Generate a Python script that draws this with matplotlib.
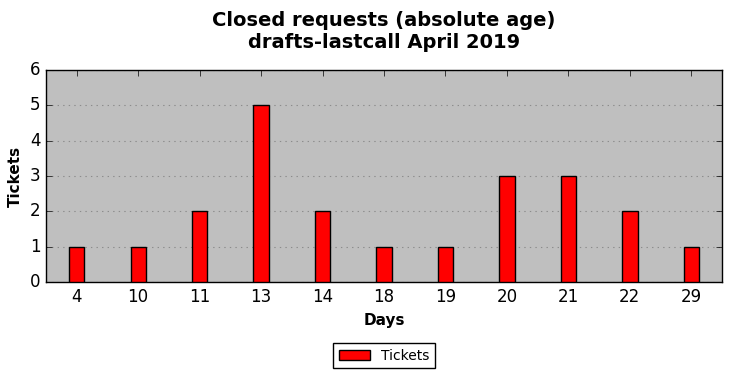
import matplotlib
matplotlib.use("Agg")
import matplotlib.pyplot as plt
import numpy as np

plt.style.use("classic")

# data
days = ["4", "10", "11", "13", "14", "18", "19", "20", "21", "22", "29"]
tickets = [1, 1, 2, 5, 2, 1, 1, 3, 3, 2, 1]

fig = plt.figure(figsize=(7.32, 3.78), dpi=100, facecolor="white")
ax = fig.add_axes([46 / 732, 1 - 282 / 378, 676 / 732, 212 / 378])
ax.set_facecolor("#bfbfbf")

x = np.arange(len(days))
ax.bar(x, tickets, width=0.25, align="center", color="red",
       edgecolor="black", linewidth=1, label="Tickets", zorder=3)

ax.set_xlim(-0.5, len(days) - 0.5)
ax.set_ylim(0, 6)
ax.set_xticks(x)
ax.set_xticklabels(days)
ax.set_yticks(range(0, 7))
ax.tick_params(labelsize=12)
ax.yaxis.grid(True, linestyle=":", color="#8c8c8c", linewidth=0.8, zorder=0)
ax.xaxis.grid(False)
ax.set_axisbelow(True)

ax.set_xlabel("Days", fontsize=11, fontweight="bold")
ax.set_ylabel("Tickets", fontsize=11, fontweight="bold")
ax.set_title("Closed requests (absolute age)\ndrafts-lastcall April 2019",
             fontsize=14, fontweight="bold", pad=16)

ax.legend(loc="upper center", bbox_to_anchor=(0.5, -0.255), fontsize=10,
          frameon=True, fancybox=False, ncol=1, handlelength=2.2)

fig.savefig("out.png", dpi=100, facecolor="white")
